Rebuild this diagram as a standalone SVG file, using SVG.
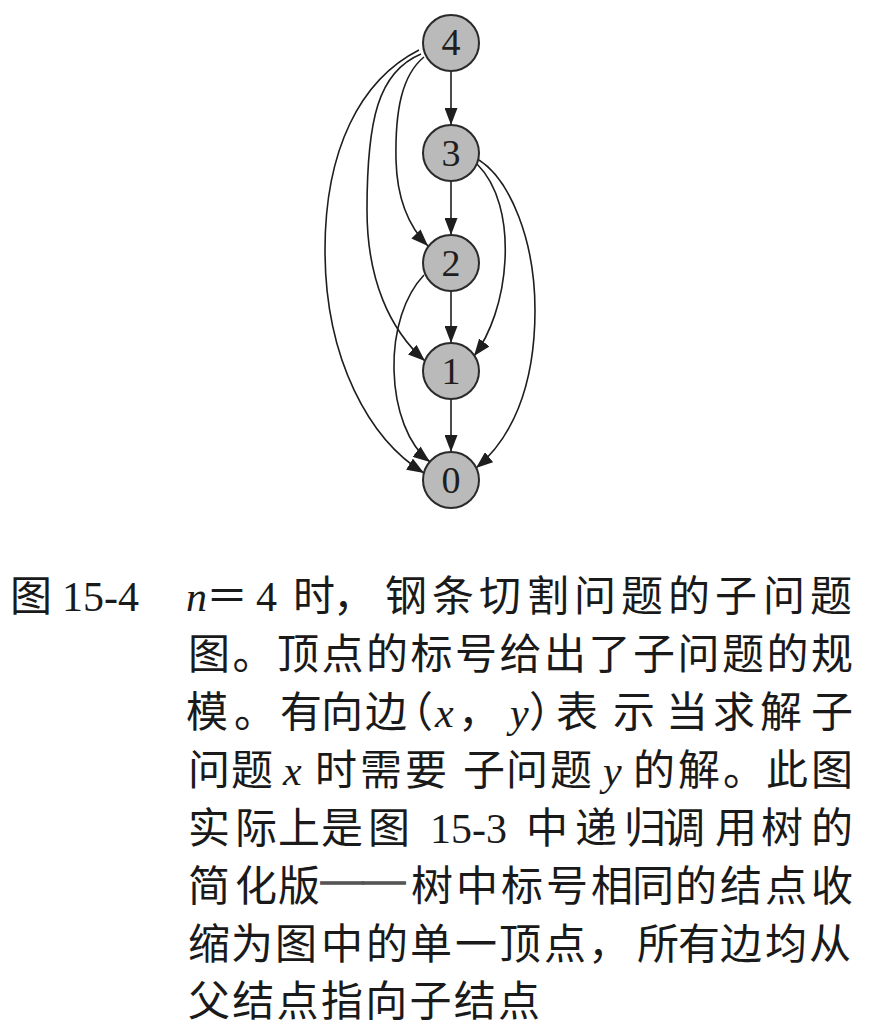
<svg xmlns="http://www.w3.org/2000/svg" width="876" height="1028" viewBox="0 0 876 1028">
<style>
.node circle{fill:#bababa;stroke:#2a2a2a;stroke-width:2}
.node text{font-family:"Liberation Serif",serif;font-size:38px;fill:#1e1e1e;text-anchor:middle}
.edge{fill:none;stroke:#1e1e1e;stroke-width:1.6}
.cjk{font-family:"Noto Sans CJK SC",sans-serif;font-size:42px;fill:#1a1a1a}
.ser{font-family:"Liberation Serif",serif;font-size:42px;fill:#1a1a1a}
.it{font-style:italic}
.dash{font-family:"Liberation Serif",serif;font-size:42px;fill:#555555;stroke:#555555;stroke-width:1.4}
</style>
<defs>
<marker id="arr" markerUnits="userSpaceOnUse" markerWidth="17" markerHeight="13" refX="17" refY="6.5" orient="auto">
<path d="M0,0 L17,6.5 L0,13 z" fill="#1e1e1e"/>
</marker>
</defs>
<rect width="876" height="1028" fill="#ffffff"/>
<g id="connectors">
<path class="edge" marker-end="url(#arr)" d="M451,71 L451,125"/>
<path class="edge" marker-end="url(#arr)" d="M451,181 L451,235"/>
<path class="edge" marker-end="url(#arr)" d="M451,291 L451,343"/>
<path class="edge" marker-end="url(#arr)" d="M451,399 L451,452"/>
<path class="edge" marker-end="url(#arr)" d="M424,57 C402,75 395,110 396,160 C397,200 410,228 428,246"/>
<path class="edge" marker-end="url(#arr)" d="M421,54 C378,72 367,120 367,210 C367,280 390,330 425,361"/>
<path class="edge" marker-end="url(#arr)" d="M419,50 C360,80 325,150 325,250 C325,360 370,440 424,473"/>
<path class="edge" marker-end="url(#arr)" d="M477,164 C498,185 507,220 505,260 C503,300 490,335 474,356"/>
<path class="edge" marker-end="url(#arr)" d="M479,160 C510,180 535,240 535,310 C535,390 510,440 476,468"/>
<path class="edge" marker-end="url(#arr)" d="M424,275 C405,295 393,330 394,370 C395,410 408,445 430,462"/>
</g>
<g id="node4" class="node"><circle cx="451" cy="43" r="28"/><text x="451" y="55">4</text></g>
<g id="node3" class="node"><circle cx="451" cy="153" r="28"/><text x="451" y="166">3</text></g>
<g id="node2" class="node"><circle cx="451" cy="263" r="28"/><text x="451" y="276">2</text></g>
<g id="node1" class="node"><circle cx="451" cy="371" r="28"/><text x="451" y="384">1</text></g>
<g id="node0" class="node"><circle cx="451" cy="480" r="28"/><text x="451" y="493">0</text></g>
<g id="caption">
<text class="cjk" x="10" y="611">图</text>
<text class="ser" x="62" y="611">15-4</text>
<text class="ser it" x="186" y="611">n</text>
<text class="cjk" x="206" y="611">＝</text>
<text class="ser" x="256" y="611">4</text>
<text class="cjk" x="293 333 385 432 479 527 574 621 668 715 763 810" y="611">时，钢条切割问题的子问题</text>
<text class="cjk" x="188 232.5 277 321.5 366 410.5 455 499.5 544 588.5 633 677.5 722 766.5 811" y="669">图。顶点的标号给出了子问题的规</text>
<text class="cjk" x="186 234 280 321 365 391" y="727">模。有向边（</text>
<text class="ser it" x="435" y="727">x</text>
<text class="cjk" x="458" y="727">，</text>
<text class="ser it" x="510" y="727">y</text>
<text class="cjk" x="529 556 613 666 713 760 811" y="727">）表示当求解子</text>
<text class="cjk" x="188 231" y="785">问题</text>
<text class="ser it" x="283" y="785">x</text>
<text class="cjk" x="315 360 405 463 506 550" y="785">时需要子问题</text>
<text class="ser it" x="603" y="785">y</text>
<text class="cjk" x="633 678 723 766 811" y="785">的解。此图</text>
<text class="cjk" x="188 235 278 321 368" y="843">实际上是图</text>
<text class="ser" x="430" y="843">15-3</text>
<text class="cjk" x="526 575 624 663 715 761 811" y="843">中递归调用树的</text>
<text class="cjk" x="188 235 278" y="901">简化版</text>
<text class="dash" x="321 363" y="893">——</text>
<text class="cjk" x="411 456 501 546 591 632 675 720 765 811" y="901">树中标号相同的结点收</text>
<text class="cjk" x="188 231 275 321 366 410 455 499 544 588 637 678 720 765 809" y="959">缩为图中的单一顶点，所有边均从</text>
<text class="cjk" x="188 232.3 276.6 320.9 365.2 409.5 453.8 498.1" y="1016">父结点指向子结点</text>
</g>
</svg>
